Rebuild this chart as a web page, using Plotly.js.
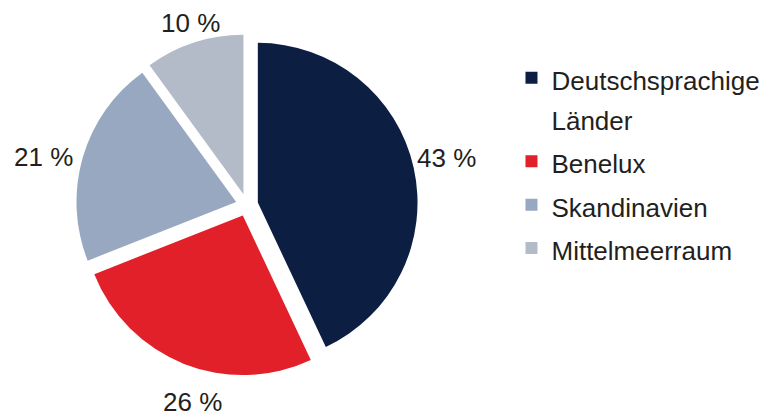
<!DOCTYPE html>
<html>
<head>
<meta charset="utf-8">
<script src="https://cdn.plot.ly/plotly-3.0.1.min.js"></script>
<style>html,body{margin:0;padding:0;background:#fff;}#chart{width:768px;height:416px;}</style>
</head>
<body>
<div id="chart"></div>
<script>
const regions = ["Deutschsprachige<br>Länder", "Benelux", "Skandinavien", "Mittelmeerraum"];
const shares = [43, 26, 21, 10];
const colors = ["#0c1f42", "#e1202a", "#98a8c0", "#b3bbc8"];
// label anchor positions in pixels (layout only)
const labelPos = [[446, 158], [192, 402], [43, 157], [190, 23]];

const W = 768, H = 416;
const M = {l: 0, r: 0, t: 34, b: 40};
const PH = H - M.t - M.b;
const FONT = "Liberation Sans, Arial, sans-serif";

const data = [{
  type: "pie",
  labels: regions.map(r => "<span style='font-size:26px'>" + r + "</span>"),
  values: shares,
  textinfo: "none",
  hoverinfo: "label+value",
  sort: false,
  direction: "clockwise",
  rotation: 0,
  pull: 0.07,
  marker: {colors: colors, line: {width: 0}},
  domain: {x: [0.099, 0.544], y: [0, 1]}
}];

const annotations = shares.map((v, i) => ({
  text: v + " %",
  xref: "paper", yref: "paper",
  x: (labelPos[i][0] - M.l) / (W - M.l - M.r),
  y: 1 - (labelPos[i][1] - M.t) / PH,
  xanchor: "center", yanchor: "middle",
  showarrow: false,
  font: {family: FONT, size: 26, color: "#231f20"}
}));

const layout = {
  width: W, height: H,
  margin: M,
  paper_bgcolor: "#ffffff",
  showlegend: true,
  annotations: annotations,
  legend: {
    x: 0.666, xanchor: "left", y: 0.95, yanchor: "top",
    valign: "top",
    font: {family: FONT, size: 31, color: "#231f20"},
    itemclick: false
  },
  font: {family: FONT, color: "#231f20"}
};

Plotly.newPlot("chart", data, layout, {staticPlot: true});
</script>
</body>
</html>
